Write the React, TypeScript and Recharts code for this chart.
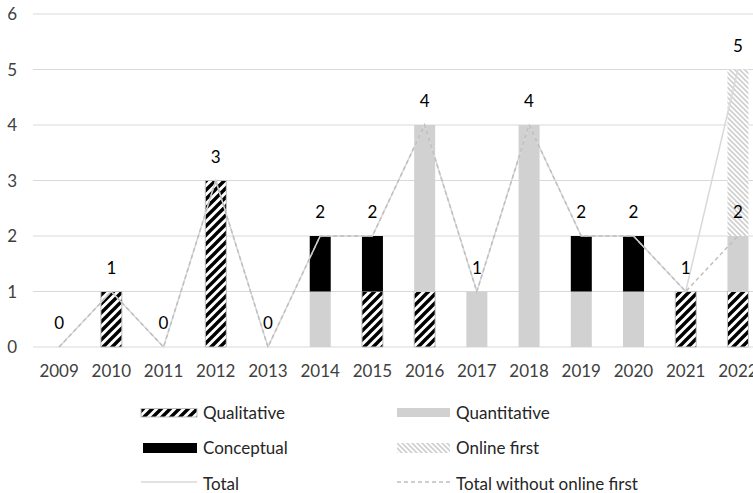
import React from 'react';
import { ComposedChart, Bar, Line, XAxis, YAxis, CartesianGrid, Legend, LabelList } from 'recharts';

const years = ['2009', '2010', '2011', '2012', '2013', '2014', '2015', '2016', '2017', '2018', '2019', '2020', '2021', '2022'];
const qualitative = [0, 1, 0, 3, 0, 0, 1, 1, 0, 0, 0, 0, 1, 1];
const quantitative = [0, 0, 0, 0, 0, 1, 0, 3, 1, 4, 1, 1, 0, 1];
const conceptual = [0, 0, 0, 0, 0, 1, 1, 0, 0, 0, 1, 1, 0, 0];
const onlineFirst = [0, 0, 0, 0, 0, 0, 0, 0, 0, 0, 0, 0, 0, 3];
const total = [0, 1, 0, 3, 0, 2, 2, 4, 1, 4, 2, 2, 1, 5];
const totalWithoutOnlineFirst = [0, 1, 0, 3, 0, 2, 2, 4, 1, 4, 2, 2, 1, 2];
const yTicks = [0, 1, 2, 3, 4, 5, 6];

const data = years.map((year, i) => ({
  year,
  qualitative: qualitative[i],
  quantitative: quantitative[i],
  conceptual: conceptual[i],
  onlineFirst: onlineFirst[i],
  total: total[i],
  totalWithoutOnlineFirst: totalWithoutOnlineFirst[i],
}));

const FONT = 'Lato, "Open Sans", sans-serif';
const FS = 17;
const QUANT = '#d0d1d0';
const HATCH_LIGHT = '#cfcfcf';

const Patterns = ({ prefix }: { prefix: string }) => (
  <defs>
    <pattern id={`${prefix}qual`} patternUnits="userSpaceOnUse" width="9" height="9">
      <rect width="9" height="9" fill="#fff" />
      <path d="M-2,2 L2,-2 M0,9 L9,0 M7,11 L11,7" stroke="#000" strokeWidth="3.4" />
    </pattern>
    <pattern id={`${prefix}online`} patternUnits="userSpaceOnUse" width="5" height="5">
      <rect width="5" height="5" fill="#fff" />
      <path d="M0,0 L5,5 M-1,4 L1,6 M4,-1 L6,1" stroke={HATCH_LIGHT} strokeWidth="1.6" />
    </pattern>
  </defs>
);

const TotalLabel = (props: any) => {
  const { x, y, value } = props;
  if (x == null || y == null) return null;
  return (
    <text x={x} y={y - 18} textAnchor="middle" fontSize={FS} fontFamily={FONT} fill="#000">
      {value}
    </text>
  );
};

const WithoutLabel = (props: any) => {
  const { x, y, value, index } = props;
  if (x == null || y == null) return null;
  if (value === total[index]) return null;
  return (
    <text x={x} y={y - 18} textAnchor="middle" fontSize={FS} fontFamily={FONT} fill="#000">
      {value}
    </text>
  );
};

const CustomLegend = () => (
  <svg width={753} height={112} style={{ display: 'block' }}>
    <Patterns prefix="lg-" />
    <g fontFamily={FONT} fontSize={FS} fill="#262626">
      <rect x={141} y={27.5} width={56} height={8.5} fill="url(#lg-qual)" stroke="#bfbfbf" strokeWidth={1} />
      <text x={203} y={37.5}>Qualitative</text>
      <rect x={397} y={27} width={53} height={9} fill={QUANT} />
      <text x={456} y={37.5}>Quantitative</text>
      <rect x={143} y={62} width={54} height={10} fill="#000" />
      <text x={203} y={73}>Conceptual</text>
      <rect x={397} y={62} width={53} height={10} fill="url(#lg-online)" />
      <text x={456} y={73}>Online first</text>
      <line x1={141} y1={101} x2={197} y2={101} stroke="#d9d9d9" strokeWidth={1.5} />
      <text x={203} y={108.5}>Total</text>
      <line x1={397} y1={101} x2={450} y2={101} stroke="#bfbfbf" strokeWidth={1.5} strokeDasharray="4 3" />
      <text x={456} y={108.5}>Total without online first</text>
    </g>
  </svg>
);

export default function App() {
  return (
    <div style={{ position: 'absolute', left: 0, top: 0, width: 753, height: 493, overflow: 'hidden', background: '#fff' }}>
      <ComposedChart
        width={764}
        height={493}
        data={data}
        margin={{ top: 14, right: 0, bottom: 0, left: 0 }}
        barCategoryGap="30%"
      >
        <Patterns prefix="ch-" />
        <CartesianGrid horizontal vertical={false} stroke="#d9d9d9" strokeWidth={1} />
        <XAxis
          dataKey="year"
          axisLine={false}
          tickLine={false}
          height={34}
          tickMargin={12}
          interval={0}
          tick={{ fill: '#404040', fontSize: FS, fontFamily: FONT }}
        />
        <YAxis
          domain={[0, 6]}
          ticks={yTicks}
          axisLine={false}
          tickLine={false}
          width={33}
          tickMargin={10}
          tick={{ fill: '#404040', fontSize: FS, fontFamily: FONT }}
        />
        <Legend
          verticalAlign="bottom"
          content={() => <CustomLegend />}
          wrapperStyle={{ left: 0, width: 753, height: 112 }}
        />
        <Bar dataKey="qualitative" name="Qualitative" stackId="a" fill="url(#ch-qual)" stroke="#bfbfbf" strokeWidth={1} isAnimationActive={false} />
        <Bar dataKey="quantitative" name="Quantitative" stackId="a" fill={QUANT} isAnimationActive={false} />
        <Bar dataKey="conceptual" name="Conceptual" stackId="a" fill="#000" isAnimationActive={false} />
        <Bar dataKey="onlineFirst" name="Online first" stackId="a" fill="url(#ch-online)" isAnimationActive={false} />
        <Line dataKey="total" name="Total" type="linear" stroke="#d9d9d9" strokeWidth={1.5} dot={false} activeDot={false} isAnimationActive={false}>
          <LabelList dataKey="total" content={<TotalLabel />} />
        </Line>
        <Line dataKey="totalWithoutOnlineFirst" name="Total without online first" type="linear" stroke="#bfbfbf" strokeWidth={1.5} strokeDasharray="4 3" dot={false} activeDot={false} isAnimationActive={false}>
          <LabelList dataKey="totalWithoutOnlineFirst" content={<WithoutLabel />} />
        </Line>
      </ComposedChart>
    </div>
  );
}
